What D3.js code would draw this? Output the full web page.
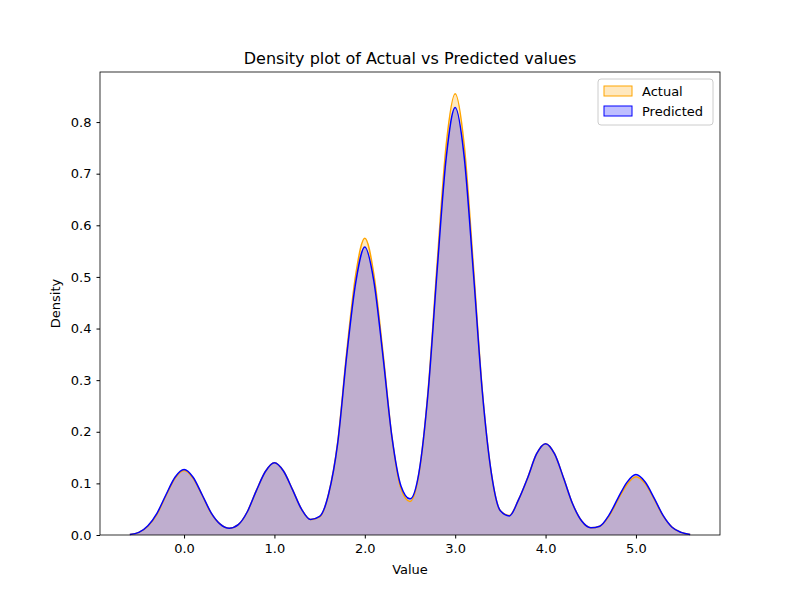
<!DOCTYPE html>
<html><head><meta charset="utf-8">
<script src="https://cdn.jsdelivr.net/npm/d3@7"></script>
<style>body{margin:0;background:#fff}text{font-family:"DejaVu Sans",sans-serif}</style>
</head><body><svg id="chart" width="800" height="600"></svg>
<script>
// values, step 0.1 from -0.6 to 5.6
const xs = d3.range(63).map(i => +(-0.6 + i * 0.1).toFixed(1));
const actual = [0.001,0.005,0.017,0.04,0.076,0.11,0.125,0.11,0.077,0.042,0.021,0.013,0.02,0.045,0.086,0.123,0.14,0.124,0.088,0.05,0.03,0.035,0.08,0.18,0.355,0.505,0.575,0.505,0.355,0.19,0.09,0.065,0.12,0.28,0.525,0.755,0.855,0.755,0.525,0.28,0.12,0.047,0.038,0.068,0.11,0.157,0.177,0.157,0.11,0.06,0.027,0.014,0.017,0.036,0.068,0.098,0.113,0.1,0.07,0.037,0.015,0.005,0.001];
const predicted = [0.001,0.005,0.018,0.042,0.078,0.112,0.127,0.112,0.078,0.043,0.021,0.013,0.02,0.045,0.086,0.123,0.14,0.124,0.088,0.05,0.03,0.036,0.08,0.178,0.348,0.49,0.558,0.492,0.348,0.19,0.095,0.07,0.122,0.276,0.512,0.73,0.828,0.732,0.512,0.278,0.12,0.047,0.037,0.068,0.11,0.157,0.177,0.157,0.11,0.06,0.027,0.014,0.017,0.038,0.071,0.102,0.117,0.103,0.072,0.038,0.015,0.005,0.001];
const xTicks = [0,1,2,3,4,5];
const yTicks = [0,0.1,0.2,0.3,0.4,0.5,0.6,0.7,0.8];

const svg = d3.select('#chart');
const L = 100, R = 720, T = 72, B = 535;
const x = d3.scaleLinear().domain([-0.93, 5.93]).range([L, R]);
const y = d3.scaleLinear().domain([0, 0.897]).range([B, T]);

const area = d3.area().x((d,i) => x(xs[i])).y0(y(0)).y1(d => y(d)).curve(d3.curveMonotoneX);
const line = d3.line().x((d,i) => x(xs[i])).y(d => y(d)).curve(d3.curveMonotoneX);

svg.append('path').attr('d', area(actual)).attr('fill', 'rgba(255,165,0,0.25)');
svg.append('path').attr('d', area(predicted)).attr('fill', 'rgba(0,0,255,0.25)');
svg.append('path').attr('d', line(actual)).attr('fill', 'none').attr('stroke', 'orange').attr('stroke-width', 1.5);
svg.append('path').attr('d', line(predicted)).attr('fill', 'none').attr('stroke', 'blue').attr('stroke-width', 1.5);

svg.append('g').attr('transform', 'translate(0,' + B + ')')
    .call(d3.axisBottom(x).tickValues(xTicks).tickSize(3.5).tickPadding(5))
    .call(g => g.select('.domain').remove());
svg.append('g').attr('transform', 'translate(' + L + ',0)')
    .call(d3.axisLeft(y).tickValues(yTicks).tickFormat(d3.format('.1f')).tickSize(3.5).tickPadding(5))
    .call(g => g.select('.domain').remove());
svg.selectAll('.tick text').attr('font-size', 13).attr('fill', '#000');
svg.selectAll('.tick line').attr('stroke', '#000');

svg.append('rect').attr('x', L).attr('y', T).attr('width', R - L).attr('height', B - T)
    .attr('fill', 'none').attr('stroke', '#000').attr('stroke-width', 0.8);

svg.append('text').attr('x', (L + R) / 2).attr('y', 64).attr('text-anchor', 'middle')
    .attr('font-size', 16).text('Density plot of Actual vs Predicted values');
svg.append('text').attr('x', (L + R) / 2).attr('y', 574).attr('text-anchor', 'middle')
    .attr('font-size', 13).text('Value');
svg.append('text').attr('transform', 'translate(60,' + ((T + B) / 2) + ') rotate(-90)')
    .attr('text-anchor', 'middle').attr('font-size', 13).text('Density');

// legend
const lg = svg.append('g').attr('transform', 'translate(598,79)');
lg.append('rect').attr('width', 115).attr('height', 46).attr('rx', 3)
    .attr('fill', '#fff').attr('fill-opacity', 0.8).attr('stroke', '#ccc');
[['Actual', 'orange', 'rgba(255,165,0,0.25)'], ['Predicted', 'blue', 'rgba(0,0,255,0.25)']].forEach((s, i) => {
    lg.append('rect').attr('x', 6).attr('y', 7 + i * 20).attr('width', 28).attr('height', 10)
        .attr('fill', s[2]).attr('stroke', s[1]);
    lg.append('text').attr('x', 44).attr('y', 17 + i * 20).attr('font-size', 13).text(s[0]);
});
</script></body></html>
